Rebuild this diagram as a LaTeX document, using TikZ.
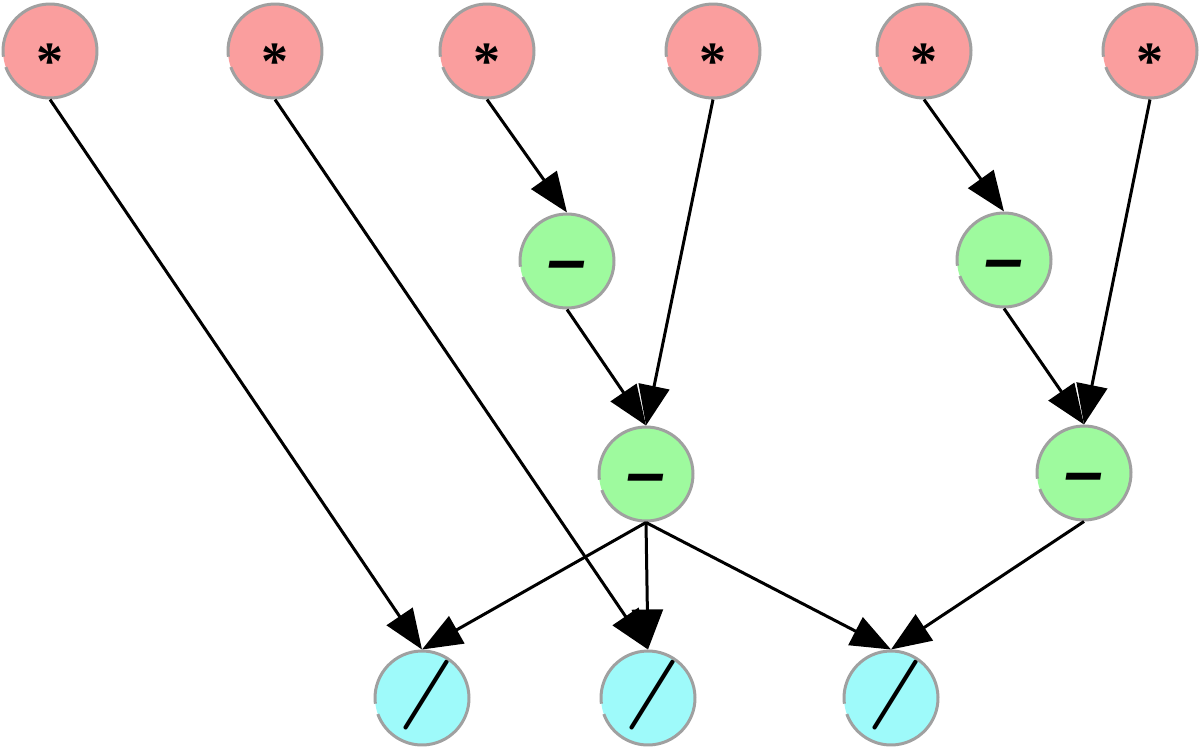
\documentclass[tikz,border=0pt]{standalone}
\usepackage{fontspec}
\newfontfamily\serfont{Liberation Serif}
\newfontfamily\sanfont{Liberation Sans}
\usetikzlibrary{arrows.meta}
\definecolor{redfill}{RGB}{250,158,158}
\definecolor{greenfill}{RGB}{158,250,158}
\definecolor{cyanfill}{RGB}{158,250,250}
\definecolor{rimgray}{RGB}{160,160,160}
\newcommand\mulsym{\smash{\raisebox{-28pt}{\fontsize{54}{54}\serfont\bfseries *}}}
\newcommand\subsym{\smash{\raisebox{-22pt}{\fontsize{70}{70}\sanfont\bfseries\itshape –}}}
\newcommand\divsym{\smash{\raisebox{-14pt}{\fontsize{70}{70}\selectfont\bfseries\itshape /}}}
\newcommand\rimarc[1]{\draw[rimgray, line width=3pt] ([shift={(173:47)}]#1.center) arc[start angle=173, end angle=520, radius=47];}
\begin{document}
\begin{tikzpicture}[x=1pt,y=-1pt,
  op/.style={circle, minimum size=94pt, inner sep=0pt, outer sep=1.5pt, text height=0pt, text depth=0pt},
  mulnode/.style={op, fill=redfill},
  subnode/.style={op, fill=greenfill},
  divnode/.style={op, fill=cyanfill},
  link/.style={line width=3pt, -{Triangle[length=40pt, width=31pt]}}]
\useasboundingbox (0,0) rectangle (1200,748);
% red row
\node[mulnode] (r1) at (50,51) {\mulsym};
\node[mulnode] (r2) at (275,51) {\mulsym};
\node[mulnode] (r3) at (487,51) {\mulsym};
\node[mulnode] (r4) at (713,51) {\mulsym};
\node[mulnode] (r5) at (924,51) {\mulsym};
\node[mulnode] (r6) at (1150,51) {\mulsym};
% green
\node[subnode] (s1) at (567,261) {\subsym};
\node[subnode] (s2) at (1004,260) {\subsym};
\node[subnode] (t1) at (646,474) {\subsym};
\node[subnode] (t2) at (1084,473) {\subsym};
% cyan
\node[divnode] (d1) at (422,698) {\divsym};
\node[divnode] (d2) at (648,698) {\divsym};
\node[divnode] (d3) at (891,698) {\divsym};
\foreach \n in {r1,r2,r3,r4,r5,r6,s1,s2,t1,t2,d1,d2,d3} {\rimarc{\n}}
% edges
\draw[link] (r1.south) -- (d1.north);
\draw[link] (r2.south) -- (d2.north);
\draw[link] (r3.south) -- (s1.north);
\draw[link] (r4.south) -- (t1.north);
\draw[link] (r5.south) -- (s2.north);
\draw[link] (r6.south) -- (t2.north);
\draw[link] (s1.south) -- (t1.north);
\draw[link] (s2.south) -- (t2.north);
\draw[link] (t1.south) -- (d1.north);
\draw[link] (t1.south) -- (d2.north);
\draw[link] (t1.south) -- (d3.north);
\draw[link] (t2.south) -- (d3.north);
\end{tikzpicture}
\end{document}
